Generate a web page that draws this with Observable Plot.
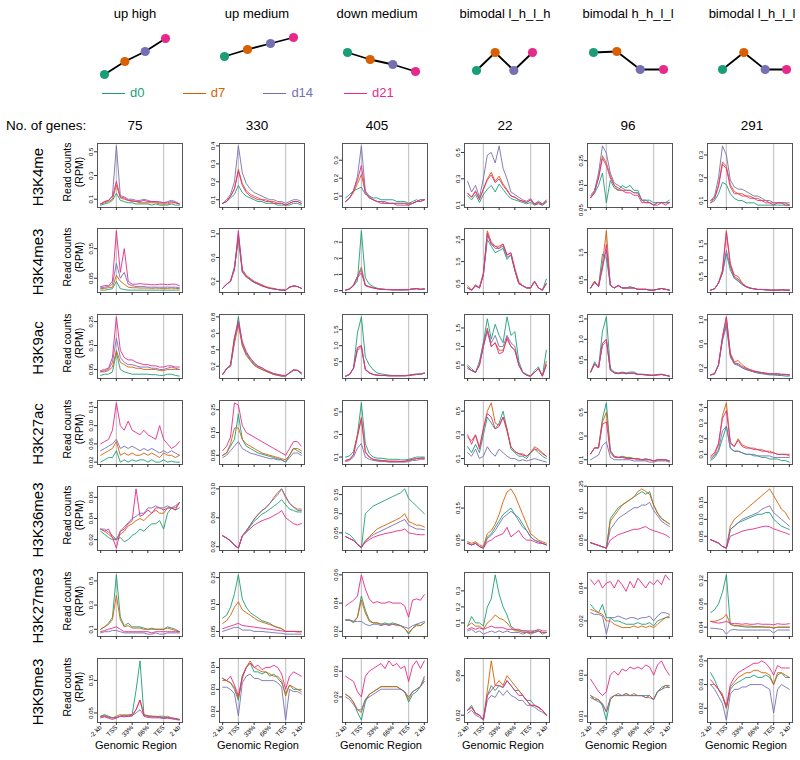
<!DOCTYPE html>
<html><head><meta charset="utf-8">
<script src="https://cdn.jsdelivr.net/npm/d3@7"></script>
<script src="https://cdn.jsdelivr.net/npm/@observablehq/plot@0.6"></script>
<style>
body{margin:0;background:#fff;font-family:"Liberation Sans",Arial,Helvetica,sans-serif;color:#000;}
#root{position:relative;width:800px;height:760px;overflow:hidden;background:#fff;}
.abs{position:absolute;white-space:nowrap;}
</style></head><body><div id="root"></div>
<script>
// ---------------- DATA ----------------
const timepoints = ["d0","d7","d14","d21"];
const groups = ["up high","up medium","down medium","bimodal l_h_l_h","bimodal h_h_l_l","bimodal l_h_l_l"];
const geneCounts = [75,330,405,22,96,291];
const histoneMarks = ["H3K4me","H3K4me3","H3K9ac","H3K27ac","H3K36me3","H3K27me3","H3K9me3"];
const regionTicks = ["-2 kb","TSS","33%","66%","TES","2 kb"];
// schematic expression level of each group at d0, d7, d14, d21
const patternLevels = [[0,13,23,36],[18,25,31,37],[22,15,10,3],[4,22,4,22],[22,23,5,5],[5,22,5,5]];

// y tick values per histone mark (one array per group)
const H3K4me_ticks   = [[0.1,0.3,0.5],[0.1,0.2,0.3,0.4],[0.1,0.2,0.3],[0.1,0.3,0.5],[0.05,0.15,0.25],[0.1,0.2,0.3]];
const H3K4me3_ticks  = [[0.05,0.15],[0.2,0.6,1.0],[0,1,2,3],[0.5,1.5,2.5],[0.5,1.5],[0.5,1.0,1.5]];
const H3K9ac_ticks   = [[0.05,0.15,0.25],[0.2,0.4,0.6,0.8],[0.5,1.0,1.5],[0.5,1.0,1.5],[0.5,1.0,1.5],[0.2,0.6,1.0]];
const H3K27ac_ticks  = [[0.02,0.06,0.10,0.14],[0.05,0.15,0.25],[0.1,0.3,0.5],[0.1,0.3,0.5],[0.1,0.3,0.5],[0.1,0.2,0.3,0.4]];
const H3K36me3_ticks = [[0.02,0.04,0.06],[0.02,0.06,0.1],[0.05,0.10,0.15],[0.05,0.15],[0.05,0.15,0.25],[0.05,0.10,0.15]];
const H3K27me3_ticks = [[0.1,0.3,0.5],[0.05,0.15,0.25],[0.02,0.04,0.06],[0.1,0.2,0.3],[0.02,0.04],[0.04,0.08,0.12]];
const H3K9me3_ticks  = [[0.05,0.15],[0.02,0.03,0.04],[0.02,0.03],[0.02,0.06],[0.01,0.03],[0.02,0.03,0.04]];

// read counts (RPM), 21 bins from -2 kb .. TSS .. 33% .. 66% .. TES .. +2 kb; series order d0, d7, d14, d21
const H3K4me = [
 [[0.05,0.06,0.07,0.09,0.15,0.09,0.08,0.07,0.07,0.06,0.06,0.06,0.06,0.05,0.06,0.05,0.05,0.05,0.06,0.05,0.05],
  [0.06,0.07,0.08,0.10,0.22,0.11,0.10,0.09,0.08,0.08,0.07,0.07,0.07,0.07,0.07,0.06,0.06,0.06,0.07,0.07,0.06],
  [0.06,0.08,0.09,0.13,0.55,0.13,0.12,0.10,0.10,0.09,0.09,0.10,0.09,0.08,0.08,0.08,0.07,0.08,0.09,0.08,0.06],
  [0.06,0.08,0.09,0.12,0.25,0.12,0.11,0.09,0.09,0.08,0.08,0.09,0.08,0.08,0.08,0.07,0.07,0.07,0.08,0.07,0.06]],
 [[0.08,0.09,0.11,0.13,0.18,0.14,0.12,0.11,0.10,0.09,0.09,0.08,0.08,0.08,0.07,0.07,0.07,0.07,0.08,0.08,0.07],
  [0.08,0.09,0.12,0.16,0.27,0.19,0.15,0.13,0.12,0.11,0.10,0.10,0.09,0.09,0.08,0.08,0.07,0.08,0.09,0.09,0.08],
  [0.08,0.10,0.13,0.20,0.40,0.25,0.19,0.16,0.14,0.13,0.12,0.11,0.10,0.10,0.09,0.09,0.08,0.09,0.10,0.10,0.09],
  [0.08,0.09,0.12,0.16,0.26,0.18,0.14,0.12,0.11,0.10,0.10,0.09,0.09,0.08,0.08,0.08,0.07,0.08,0.09,0.09,0.08]],
 [[0.09,0.11,0.13,0.14,0.15,0.11,0.10,0.09,0.09,0.08,0.08,0.08,0.08,0.07,0.07,0.07,0.06,0.07,0.08,0.07,0.08],
  [0.07,0.09,0.12,0.17,0.22,0.12,0.09,0.08,0.07,0.07,0.06,0.06,0.06,0.06,0.06,0.06,0.06,0.06,0.07,0.08,0.08],
  [0.07,0.09,0.13,0.21,0.38,0.13,0.10,0.08,0.07,0.07,0.07,0.06,0.06,0.06,0.06,0.06,0.05,0.06,0.07,0.08,0.08],
  [0.07,0.09,0.13,0.19,0.27,0.12,0.09,0.08,0.07,0.06,0.06,0.06,0.06,0.05,0.05,0.05,0.05,0.06,0.07,0.07,0.08]],
 [[0.17,0.14,0.18,0.12,0.18,0.22,0.25,0.20,0.26,0.22,0.18,0.15,0.14,0.13,0.12,0.11,0.12,0.10,0.11,0.10,0.12],
  [0.19,0.16,0.20,0.15,0.22,0.30,0.35,0.28,0.32,0.26,0.22,0.17,0.16,0.14,0.13,0.12,0.14,0.11,0.12,0.11,0.13],
  [0.28,0.20,0.25,0.16,0.30,0.48,0.50,0.42,0.55,0.38,0.30,0.20,0.18,0.16,0.14,0.13,0.15,0.11,0.13,0.11,0.14],
  [0.19,0.16,0.21,0.14,0.22,0.29,0.33,0.27,0.30,0.25,0.21,0.17,0.16,0.14,0.13,0.12,0.14,0.10,0.12,0.10,0.13]],
 [[0.10,0.12,0.15,0.20,0.08,0.17,0.14,0.13,0.15,0.14,0.15,0.13,0.13,0.09,0.09,0.09,0.08,0.08,0.08,0.08,0.09],
  [0.10,0.13,0.18,0.27,0.24,0.19,0.15,0.14,0.13,0.13,0.13,0.12,0.12,0.09,0.08,0.08,0.07,0.08,0.08,0.08,0.08],
  [0.11,0.13,0.20,0.31,0.28,0.20,0.16,0.15,0.14,0.13,0.13,0.12,0.12,0.09,0.09,0.08,0.07,0.08,0.08,0.08,0.08],
  [0.10,0.12,0.18,0.26,0.23,0.18,0.15,0.13,0.13,0.12,0.12,0.11,0.11,0.08,0.08,0.08,0.07,0.07,0.08,0.07,0.08]],
 [[0.09,0.10,0.13,0.18,0.17,0.13,0.11,0.10,0.10,0.09,0.09,0.09,0.08,0.08,0.08,0.08,0.08,0.08,0.08,0.08,0.08],
  [0.10,0.11,0.17,0.27,0.25,0.17,0.14,0.13,0.13,0.12,0.12,0.11,0.11,0.10,0.10,0.09,0.09,0.09,0.09,0.09,0.08],
  [0.10,0.12,0.20,0.34,0.30,0.19,0.16,0.15,0.15,0.14,0.13,0.12,0.12,0.11,0.10,0.10,0.09,0.09,0.09,0.09,0.09],
  [0.09,0.11,0.16,0.26,0.24,0.16,0.13,0.13,0.12,0.12,0.11,0.11,0.10,0.10,0.09,0.09,0.08,0.09,0.09,0.08,0.08]]
];
const H3K4me3 = [
 [[0.01,0.01,0.012,0.015,0.04,0.015,0.012,0.01,0.01,0.01,0.01,0.01,0.01,0.01,0.01,0.01,0.01,0.01,0.01,0.01,0.01],
  [0.015,0.016,0.018,0.02,0.06,0.04,0.03,0.02,0.018,0.018,0.017,0.017,0.017,0.016,0.017,0.016,0.016,0.016,0.017,0.016,0.015],
  [0.018,0.02,0.022,0.03,0.10,0.05,0.07,0.03,0.025,0.022,0.022,0.022,0.02,0.02,0.02,0.02,0.02,0.02,0.02,0.02,0.018],
  [0.022,0.025,0.025,0.04,0.21,0.07,0.15,0.04,0.03,0.03,0.032,0.03,0.03,0.028,0.028,0.03,0.03,0.028,0.03,0.03,0.025]],
 [[0.08,0.15,0.2,0.45,0.9,0.35,0.28,0.22,0.18,0.15,0.12,0.1,0.08,0.07,0.06,0.05,0.05,0.1,0.12,0.11,0.08],
  [0.08,0.15,0.2,0.42,0.95,0.4,0.3,0.25,0.2,0.17,0.14,0.11,0.09,0.08,0.06,0.05,0.05,0.1,0.12,0.11,0.08],
  [0.08,0.15,0.2,0.4,1.0,0.38,0.28,0.24,0.19,0.16,0.13,0.1,0.08,0.07,0.06,0.05,0.05,0.1,0.12,0.11,0.08],
  [0.08,0.15,0.2,0.4,1.05,0.36,0.27,0.23,0.18,0.15,0.12,0.1,0.08,0.07,0.06,0.05,0.05,0.1,0.12,0.11,0.08]],
 [[0.03,0.1,0.3,0.6,3.7,0.8,0.4,0.25,0.15,0.1,0.08,0.07,0.06,0.05,0.05,0.05,0.06,0.1,0.12,0.08,0.1],
  [0.03,0.1,0.35,0.9,1.45,0.35,0.25,0.18,0.12,0.09,0.07,0.06,0.05,0.05,0.05,0.05,0.06,0.1,0.12,0.08,0.1],
  [0.03,0.1,0.35,0.85,1.3,0.33,0.24,0.17,0.12,0.09,0.07,0.06,0.05,0.05,0.05,0.05,0.06,0.1,0.12,0.08,0.1],
  [0.03,0.1,0.3,0.8,1.1,0.3,0.22,0.16,0.11,0.08,0.07,0.06,0.05,0.05,0.05,0.05,0.06,0.1,0.12,0.08,0.1]],
 [[0.3,0.2,0.4,0.3,0.9,2.5,2.2,1.9,2.0,2.1,1.6,1.8,1.1,0.5,0.4,0.3,0.3,0.6,0.3,0.2,0.7],
  [0.4,0.2,0.45,0.3,1.0,2.9,2.4,2.2,2.2,2.3,1.8,1.9,1.2,0.6,0.4,0.3,0.3,0.6,0.3,0.2,0.5],
  [0.3,0.2,0.4,0.3,0.9,2.7,2.3,2.1,2.1,2.2,1.7,1.8,1.1,0.5,0.4,0.3,0.3,0.6,0.3,0.2,0.5],
  [0.3,0.2,0.4,0.3,0.9,2.8,2.3,2.2,2.1,2.3,1.8,1.9,1.1,0.5,0.4,0.3,0.3,0.6,0.3,0.2,0.5]],
 [[0.2,0.45,0.25,1.45,1.3,0.3,0.2,0.3,0.2,0.2,0.25,0.2,0.15,0.15,0.15,0.12,0.12,0.15,0.18,0.15,0.12],
  [0.2,0.45,0.25,1.1,2.3,0.3,0.2,0.3,0.2,0.2,0.2,0.2,0.15,0.15,0.15,0.12,0.12,0.15,0.18,0.15,0.12],
  [0.2,0.4,0.25,1.0,1.6,0.3,0.2,0.28,0.2,0.2,0.2,0.2,0.15,0.15,0.15,0.12,0.12,0.15,0.18,0.15,0.12],
  [0.2,0.4,0.25,0.9,1.8,0.3,0.2,0.28,0.2,0.2,0.2,0.2,0.15,0.15,0.15,0.12,0.12,0.15,0.18,0.15,0.12]],
 [[0.08,0.12,0.3,0.6,1.2,0.7,0.45,0.35,0.25,0.18,0.14,0.12,0.1,0.1,0.09,0.08,0.08,0.08,0.09,0.08,0.08],
  [0.08,0.12,0.3,0.7,1.9,0.9,0.55,0.5,0.3,0.2,0.15,0.12,0.1,0.1,0.09,0.08,0.08,0.08,0.09,0.08,0.08],
  [0.08,0.12,0.3,0.6,1.3,0.8,0.45,0.38,0.25,0.18,0.14,0.12,0.1,0.1,0.09,0.08,0.08,0.08,0.09,0.08,0.08],
  [0.08,0.12,0.3,0.65,1.85,0.85,0.5,0.42,0.28,0.19,0.14,0.12,0.1,0.1,0.09,0.08,0.08,0.08,0.09,0.08,0.08]]
];
const H3K9ac = [
 [[0.025,0.03,0.03,0.04,0.12,0.05,0.04,0.035,0.03,0.03,0.03,0.03,0.03,0.028,0.028,0.025,0.025,0.03,0.03,0.025,0.022],
  [0.04,0.04,0.045,0.06,0.13,0.08,0.07,0.06,0.06,0.055,0.055,0.05,0.05,0.05,0.05,0.045,0.045,0.05,0.05,0.05,0.05],
  [0.04,0.045,0.05,0.08,0.18,0.1,0.08,0.07,0.07,0.065,0.06,0.06,0.06,0.055,0.055,0.05,0.05,0.055,0.06,0.055,0.05],
  [0.045,0.05,0.055,0.1,0.27,0.13,0.1,0.09,0.09,0.08,0.075,0.07,0.07,0.065,0.065,0.06,0.06,0.065,0.065,0.06,0.06]],
 [[0.1,0.17,0.2,0.5,0.8,0.45,0.35,0.28,0.22,0.19,0.16,0.14,0.12,0.1,0.09,0.08,0.08,0.12,0.15,0.15,0.1],
  [0.1,0.17,0.2,0.48,0.7,0.45,0.33,0.27,0.21,0.18,0.16,0.14,0.12,0.1,0.09,0.08,0.08,0.12,0.15,0.15,0.12],
  [0.1,0.17,0.21,0.55,0.72,0.48,0.36,0.3,0.24,0.2,0.18,0.15,0.13,0.11,0.1,0.09,0.08,0.12,0.15,0.15,0.12],
  [0.1,0.17,0.22,0.55,0.75,0.5,0.38,0.3,0.24,0.2,0.18,0.15,0.13,0.11,0.1,0.09,0.09,0.12,0.16,0.15,0.12]],
 [[0.05,0.1,0.3,1.4,1.9,0.65,0.4,0.25,0.15,0.12,0.1,0.08,0.07,0.07,0.07,0.07,0.08,0.1,0.12,0.12,0.15],
  [0.05,0.1,0.3,0.9,1.0,0.25,0.15,0.1,0.08,0.07,0.07,0.06,0.06,0.06,0.06,0.06,0.07,0.09,0.1,0.11,0.14],
  [0.05,0.1,0.3,0.85,0.95,0.25,0.15,0.1,0.08,0.07,0.07,0.06,0.06,0.06,0.06,0.06,0.07,0.09,0.1,0.11,0.14],
  [0.05,0.1,0.3,0.95,1.0,0.27,0.16,0.1,0.08,0.07,0.07,0.06,0.06,0.06,0.06,0.06,0.07,0.09,0.1,0.11,0.14]],
 [[0.5,0.4,0.3,0.6,1.1,1.75,1.2,1.6,1.3,1.1,1.8,1.3,1.4,0.6,0.3,0.25,0.2,0.35,0.45,0.2,0.9],
  [0.45,0.35,0.3,0.5,1.0,1.5,1.0,1.1,0.9,0.9,1.2,1.0,0.9,0.5,0.3,0.22,0.2,0.3,0.4,0.2,0.6],
  [0.4,0.35,0.3,0.5,1.1,1.45,1.1,1.3,1.0,1.0,1.3,1.1,1.0,0.5,0.3,0.22,0.2,0.3,0.4,0.2,0.5],
  [0.45,0.35,0.3,0.5,1.0,1.4,1.0,1.1,0.8,0.85,1.25,1.0,0.9,0.5,0.3,0.22,0.2,0.3,0.4,0.2,0.5]],
 [[0.2,0.45,0.3,1.2,1.55,0.3,0.2,0.18,0.2,0.18,0.2,0.2,0.15,0.15,0.14,0.13,0.12,0.14,0.15,0.12,0.1],
  [0.2,0.4,0.3,0.9,1.0,0.25,0.18,0.16,0.18,0.16,0.17,0.17,0.14,0.14,0.13,0.12,0.12,0.13,0.14,0.12,0.1],
  [0.2,0.4,0.3,0.85,0.95,0.25,0.18,0.16,0.18,0.16,0.17,0.17,0.14,0.14,0.13,0.12,0.12,0.13,0.14,0.12,0.1],
  [0.2,0.4,0.3,0.9,1.0,0.25,0.18,0.16,0.18,0.16,0.17,0.17,0.14,0.14,0.13,0.12,0.12,0.13,0.14,0.12,0.1]],
 [[0.08,0.1,0.25,0.68,0.95,0.4,0.28,0.25,0.2,0.17,0.15,0.13,0.11,0.1,0.09,0.08,0.08,0.07,0.07,0.06,0.06],
  [0.08,0.1,0.25,0.72,1.05,0.45,0.3,0.32,0.25,0.2,0.17,0.15,0.13,0.12,0.11,0.1,0.1,0.1,0.09,0.09,0.08],
  [0.08,0.1,0.25,0.65,0.9,0.38,0.26,0.24,0.2,0.17,0.15,0.13,0.12,0.11,0.1,0.09,0.09,0.09,0.08,0.08,0.08],
  [0.08,0.1,0.25,0.7,1.05,0.42,0.28,0.27,0.22,0.19,0.16,0.14,0.13,0.12,0.11,0.1,0.1,0.1,0.09,0.09,0.08]]
];
const H3K27ac = [
 [[0.02,0.025,0.03,0.03,0.045,0.02,0.025,0.02,0.025,0.022,0.025,0.025,0.02,0.025,0.02,0.02,0.025,0.02,0.022,0.02,0.02],
  [0.035,0.04,0.045,0.05,0.065,0.035,0.04,0.035,0.04,0.035,0.035,0.04,0.035,0.04,0.035,0.03,0.04,0.035,0.035,0.03,0.035],
  [0.045,0.05,0.055,0.06,0.07,0.05,0.055,0.05,0.055,0.05,0.045,0.05,0.045,0.05,0.045,0.04,0.045,0.04,0.045,0.04,0.035],
  [0.06,0.065,0.07,0.09,0.15,0.1,0.09,0.11,0.09,0.085,0.08,0.09,0.08,0.075,0.07,0.1,0.07,0.06,0.05,0.055,0.065]],
 [[0.05,0.06,0.09,0.12,0.23,0.12,0.09,0.08,0.07,0.06,0.055,0.05,0.045,0.04,0.035,0.03,0.02,0.05,0.08,0.07,0.06],
  [0.05,0.06,0.1,0.17,0.17,0.12,0.1,0.09,0.08,0.07,0.06,0.055,0.05,0.045,0.04,0.035,0.03,0.05,0.08,0.08,0.07],
  [0.04,0.05,0.07,0.09,0.11,0.08,0.07,0.06,0.055,0.05,0.045,0.04,0.035,0.035,0.03,0.03,0.02,0.04,0.06,0.06,0.05],
  [0.07,0.09,0.13,0.28,0.27,0.18,0.15,0.14,0.13,0.12,0.11,0.1,0.09,0.08,0.07,0.06,0.05,0.08,0.11,0.11,0.09]],
 [[0.1,0.11,0.15,0.3,0.58,0.22,0.13,0.1,0.09,0.09,0.085,0.08,0.08,0.08,0.075,0.075,0.08,0.09,0.1,0.1,0.1],
  [0.07,0.08,0.12,0.3,0.45,0.15,0.1,0.08,0.075,0.07,0.07,0.065,0.065,0.065,0.06,0.065,0.07,0.08,0.085,0.09,0.09],
  [0.06,0.07,0.1,0.18,0.22,0.1,0.08,0.07,0.065,0.06,0.06,0.055,0.055,0.055,0.055,0.055,0.06,0.07,0.07,0.08,0.08],
  [0.07,0.08,0.12,0.28,0.44,0.14,0.1,0.08,0.07,0.07,0.065,0.06,0.06,0.06,0.06,0.06,0.07,0.08,0.085,0.09,0.09]],
 [[0.2,0.15,0.22,0.15,0.3,0.45,0.4,0.35,0.4,0.5,0.35,0.18,0.15,0.12,0.12,0.1,0.15,0.18,0.15,0.12,0.1],
  [0.28,0.25,0.3,0.2,0.35,0.5,0.57,0.4,0.38,0.45,0.35,0.2,0.16,0.14,0.14,0.12,0.15,0.2,0.18,0.15,0.12],
  [0.15,0.12,0.18,0.1,0.12,0.2,0.15,0.12,0.18,0.15,0.12,0.1,0.1,0.08,0.09,0.08,0.09,0.1,0.09,0.08,0.07],
  [0.3,0.22,0.3,0.18,0.35,0.48,0.45,0.35,0.37,0.45,0.33,0.2,0.16,0.14,0.13,0.12,0.15,0.18,0.17,0.14,0.12]],
 [[0.15,0.2,0.2,0.45,0.58,0.18,0.13,0.12,0.13,0.12,0.12,0.11,0.11,0.1,0.11,0.1,0.09,0.1,0.1,0.1,0.09],
  [0.15,0.2,0.2,0.42,0.5,0.17,0.13,0.12,0.12,0.12,0.11,0.11,0.11,0.1,0.1,0.1,0.09,0.1,0.1,0.1,0.09],
  [0.1,0.12,0.14,0.22,0.25,0.12,0.1,0.1,0.1,0.1,0.1,0.09,0.09,0.09,0.09,0.08,0.08,0.09,0.09,0.09,0.08],
  [0.15,0.2,0.2,0.4,0.42,0.16,0.12,0.12,0.12,0.11,0.11,0.11,0.1,0.1,0.1,0.1,0.09,0.1,0.1,0.1,0.09]],
 [[0.06,0.08,0.12,0.2,0.28,0.14,0.12,0.12,0.11,0.1,0.1,0.09,0.09,0.08,0.08,0.07,0.07,0.07,0.06,0.06,0.05],
  [0.08,0.1,0.16,0.35,0.43,0.18,0.15,0.2,0.16,0.15,0.14,0.14,0.13,0.13,0.12,0.12,0.11,0.1,0.1,0.1,0.09],
  [0.07,0.09,0.13,0.25,0.28,0.14,0.12,0.12,0.11,0.1,0.1,0.1,0.09,0.09,0.09,0.09,0.08,0.08,0.08,0.08,0.08],
  [0.09,0.11,0.17,0.33,0.38,0.17,0.15,0.19,0.15,0.14,0.14,0.13,0.13,0.12,0.12,0.11,0.11,0.1,0.1,0.1,0.1]]
];
const H3K36me3 = [
 [[0.028,0.025,0.022,0.02,0.02,0.022,0.018,0.02,0.024,0.026,0.03,0.028,0.032,0.035,0.035,0.038,0.03,0.045,0.05,0.048,0.05],
  [0.03,0.028,0.025,0.022,0.02,0.025,0.028,0.033,0.035,0.038,0.04,0.038,0.042,0.045,0.048,0.045,0.045,0.05,0.05,0.05,0.055],
  [0.03,0.03,0.027,0.024,0.02,0.028,0.032,0.036,0.04,0.042,0.045,0.045,0.05,0.05,0.052,0.05,0.05,0.052,0.05,0.052,0.055],
  [0.03,0.028,0.03,0.022,0.012,0.028,0.03,0.035,0.038,0.068,0.042,0.044,0.048,0.045,0.05,0.05,0.048,0.05,0.05,0.048,0.055]],
 [[0.035,0.032,0.028,0.022,0.018,0.035,0.04,0.048,0.055,0.06,0.065,0.068,0.072,0.076,0.08,0.085,0.078,0.072,0.07,0.068,0.068],
  [0.035,0.032,0.028,0.022,0.018,0.035,0.042,0.05,0.058,0.065,0.07,0.074,0.08,0.088,0.095,0.1,0.088,0.08,0.075,0.072,0.072],
  [0.035,0.032,0.028,0.022,0.018,0.035,0.042,0.05,0.058,0.064,0.07,0.074,0.08,0.086,0.092,0.1,0.09,0.08,0.075,0.07,0.07],
  [0.035,0.032,0.028,0.022,0.018,0.035,0.04,0.045,0.05,0.053,0.056,0.058,0.06,0.063,0.066,0.07,0.06,0.056,0.052,0.05,0.052]],
 [[0.05,0.045,0.035,0.02,0.01,0.1,0.11,0.12,0.125,0.13,0.135,0.14,0.145,0.15,0.155,0.165,0.14,0.13,0.12,0.11,0.1],
  [0.04,0.035,0.03,0.02,0.012,0.03,0.04,0.05,0.06,0.065,0.07,0.075,0.08,0.085,0.09,0.1,0.08,0.075,0.07,0.07,0.065],
  [0.04,0.035,0.03,0.02,0.012,0.028,0.037,0.045,0.05,0.055,0.06,0.065,0.07,0.075,0.08,0.085,0.07,0.065,0.06,0.06,0.058],
  [0.04,0.035,0.03,0.02,0.012,0.025,0.032,0.038,0.042,0.045,0.048,0.05,0.052,0.055,0.056,0.06,0.05,0.048,0.046,0.045,0.045]],
 [[0.04,0.035,0.04,0.03,0.025,0.06,0.07,0.09,0.11,0.13,0.14,0.15,0.13,0.12,0.1,0.08,0.06,0.05,0.045,0.04,0.035],
  [0.045,0.04,0.045,0.035,0.03,0.07,0.08,0.1,0.13,0.17,0.2,0.21,0.19,0.16,0.13,0.1,0.07,0.06,0.05,0.045,0.04],
  [0.04,0.035,0.04,0.03,0.025,0.055,0.065,0.08,0.1,0.12,0.13,0.14,0.13,0.11,0.09,0.08,0.06,0.05,0.045,0.04,0.035],
  [0.04,0.035,0.04,0.03,0.025,0.045,0.05,0.06,0.065,0.07,0.09,0.06,0.07,0.08,0.06,0.05,0.05,0.045,0.04,0.04,0.035]],
 [[0.04,0.035,0.03,0.025,0.02,0.13,0.15,0.17,0.18,0.19,0.2,0.21,0.22,0.23,0.22,0.23,0.18,0.15,0.13,0.12,0.11],
  [0.04,0.035,0.03,0.025,0.02,0.12,0.14,0.16,0.18,0.19,0.2,0.21,0.23,0.24,0.23,0.22,0.18,0.15,0.13,0.12,0.11],
  [0.04,0.035,0.03,0.025,0.02,0.09,0.11,0.13,0.14,0.15,0.16,0.17,0.17,0.18,0.18,0.19,0.16,0.14,0.12,0.11,0.1],
  [0.04,0.035,0.03,0.025,0.02,0.05,0.06,0.07,0.075,0.08,0.085,0.09,0.09,0.095,0.1,0.09,0.085,0.08,0.075,0.07,0.06]],
 [[0.04,0.035,0.03,0.02,0.015,0.07,0.08,0.09,0.095,0.1,0.105,0.11,0.115,0.115,0.12,0.12,0.1,0.09,0.08,0.075,0.07],
  [0.04,0.035,0.03,0.02,0.015,0.08,0.1,0.11,0.12,0.13,0.14,0.15,0.16,0.17,0.18,0.19,0.17,0.15,0.13,0.12,0.1],
  [0.04,0.035,0.03,0.02,0.015,0.07,0.08,0.09,0.1,0.105,0.11,0.115,0.12,0.13,0.135,0.14,0.12,0.11,0.1,0.09,0.08],
  [0.04,0.035,0.03,0.02,0.015,0.05,0.055,0.06,0.065,0.068,0.07,0.072,0.075,0.078,0.08,0.078,0.072,0.068,0.064,0.06,0.055]]
];
const H3K27me3 = [
 [[0.1,0.12,0.15,0.2,0.55,0.2,0.13,0.15,0.12,0.12,0.12,0.11,0.1,0.11,0.1,0.1,0.1,0.12,0.11,0.1,0.08],
  [0.1,0.12,0.14,0.18,0.38,0.18,0.12,0.13,0.11,0.11,0.11,0.1,0.1,0.1,0.1,0.1,0.1,0.11,0.1,0.09,0.08],
  [0.07,0.08,0.08,0.09,0.09,0.08,0.07,0.07,0.07,0.07,0.07,0.07,0.06,0.06,0.07,0.06,0.06,0.07,0.07,0.07,0.07],
  [0.08,0.09,0.1,0.11,0.12,0.1,0.08,0.08,0.08,0.08,0.08,0.08,0.08,0.07,0.08,0.08,0.08,0.08,0.08,0.08,0.08]],
 [[0.1,0.11,0.14,0.19,0.26,0.17,0.14,0.12,0.11,0.1,0.09,0.085,0.08,0.07,0.065,0.06,0.05,0.05,0.05,0.05,0.05],
  [0.08,0.09,0.11,0.14,0.16,0.13,0.12,0.11,0.1,0.09,0.085,0.08,0.075,0.07,0.065,0.06,0.05,0.05,0.05,0.05,0.05],
  [0.05,0.055,0.06,0.065,0.065,0.055,0.055,0.055,0.05,0.05,0.05,0.048,0.047,0.045,0.044,0.043,0.04,0.04,0.04,0.04,0.04],
  [0.06,0.065,0.07,0.075,0.08,0.072,0.07,0.068,0.066,0.064,0.062,0.06,0.058,0.056,0.054,0.052,0.05,0.05,0.05,0.048,0.048]],
 [[0.028,0.028,0.026,0.03,0.045,0.035,0.028,0.026,0.026,0.025,0.026,0.025,0.026,0.025,0.024,0.022,0.018,0.022,0.025,0.024,0.026],
  [0.028,0.028,0.027,0.03,0.042,0.033,0.027,0.026,0.026,0.025,0.025,0.025,0.025,0.025,0.024,0.022,0.019,0.022,0.024,0.024,0.026],
  [0.028,0.028,0.027,0.027,0.027,0.025,0.024,0.025,0.025,0.024,0.025,0.024,0.025,0.024,0.024,0.023,0.022,0.024,0.025,0.026,0.027],
  [0.038,0.04,0.042,0.045,0.06,0.05,0.043,0.04,0.041,0.04,0.04,0.041,0.04,0.04,0.04,0.038,0.03,0.042,0.043,0.042,0.046]],
 [[0.08,0.14,0.1,0.1,0.08,0.2,0.25,0.4,0.28,0.2,0.15,0.08,0.06,0.05,0.05,0.05,0.04,0.05,0.05,0.04,0.04],
  [0.08,0.1,0.08,0.08,0.06,0.1,0.12,0.15,0.13,0.12,0.1,0.07,0.05,0.05,0.04,0.04,0.04,0.04,0.05,0.04,0.04],
  [0.05,0.06,0.04,0.05,0.03,0.04,0.05,0.04,0.05,0.04,0.05,0.04,0.04,0.04,0.03,0.04,0.03,0.04,0.05,0.03,0.04],
  [0.06,0.07,0.06,0.07,0.06,0.07,0.08,0.07,0.07,0.07,0.06,0.06,0.06,0.06,0.05,0.05,0.05,0.05,0.06,0.05,0.05]],
 [[0.03,0.027,0.025,0.03,0.022,0.022,0.02,0.02,0.019,0.018,0.018,0.018,0.019,0.018,0.018,0.019,0.017,0.02,0.021,0.022,0.022],
  [0.027,0.026,0.025,0.024,0.02,0.02,0.018,0.017,0.016,0.016,0.016,0.017,0.016,0.017,0.016,0.017,0.016,0.018,0.02,0.022,0.023],
  [0.025,0.024,0.024,0.023,0.012,0.022,0.022,0.023,0.022,0.021,0.022,0.022,0.021,0.022,0.022,0.023,0.02,0.023,0.025,0.025,0.024],
  [0.045,0.042,0.045,0.04,0.043,0.044,0.04,0.045,0.042,0.038,0.044,0.04,0.046,0.043,0.04,0.044,0.042,0.045,0.042,0.048,0.045]],
 [[0.065,0.07,0.08,0.1,0.13,0.045,0.042,0.042,0.041,0.04,0.04,0.04,0.04,0.04,0.04,0.04,0.038,0.04,0.04,0.04,0.04],
  [0.05,0.05,0.052,0.055,0.062,0.045,0.043,0.043,0.042,0.042,0.042,0.041,0.041,0.041,0.04,0.04,0.039,0.04,0.04,0.04,0.04],
  [0.038,0.038,0.037,0.036,0.028,0.035,0.036,0.035,0.035,0.035,0.035,0.035,0.035,0.035,0.035,0.035,0.03,0.035,0.035,0.035,0.035],
  [0.05,0.048,0.047,0.048,0.05,0.047,0.046,0.046,0.045,0.046,0.045,0.045,0.046,0.045,0.045,0.045,0.044,0.046,0.045,0.045,0.046]]
];
const H3K9me3 = [
 [[0.04,0.045,0.04,0.035,0.035,0.04,0.045,0.04,0.045,0.12,0.21,0.045,0.04,0.04,0.038,0.04,0.04,0.035,0.035,0.032,0.03],
  [0.04,0.042,0.038,0.035,0.04,0.045,0.042,0.045,0.045,0.06,0.09,0.045,0.042,0.04,0.04,0.038,0.035,0.04,0.035,0.033,0.03],
  [0.038,0.04,0.036,0.035,0.035,0.04,0.04,0.04,0.042,0.05,0.06,0.042,0.04,0.038,0.038,0.036,0.035,0.036,0.034,0.033,0.03],
  [0.035,0.038,0.034,0.03,0.035,0.04,0.038,0.04,0.04,0.06,0.09,0.04,0.036,0.035,0.035,0.035,0.033,0.034,0.032,0.03,0.028]],
 [[0.035,0.034,0.033,0.03,0.025,0.036,0.04,0.042,0.038,0.038,0.037,0.038,0.036,0.037,0.035,0.033,0.028,0.032,0.03,0.03,0.03],
  [0.034,0.034,0.033,0.031,0.026,0.035,0.04,0.043,0.04,0.039,0.038,0.038,0.037,0.036,0.036,0.034,0.027,0.032,0.031,0.03,0.029],
  [0.031,0.031,0.03,0.028,0.018,0.033,0.036,0.037,0.035,0.035,0.034,0.034,0.034,0.034,0.033,0.031,0.016,0.03,0.029,0.029,0.028],
  [0.035,0.034,0.036,0.032,0.027,0.036,0.04,0.042,0.04,0.041,0.039,0.04,0.04,0.041,0.04,0.037,0.03,0.036,0.038,0.037,0.036]],
 [[0.021,0.02,0.018,0.014,0.011,0.018,0.021,0.022,0.023,0.024,0.024,0.024,0.024,0.024,0.023,0.022,0.018,0.021,0.022,0.024,0.026],
  [0.021,0.02,0.018,0.015,0.014,0.019,0.021,0.022,0.023,0.024,0.024,0.024,0.024,0.024,0.023,0.022,0.019,0.022,0.023,0.024,0.027],
  [0.02,0.019,0.017,0.015,0.015,0.019,0.02,0.021,0.022,0.023,0.023,0.023,0.023,0.023,0.023,0.022,0.02,0.022,0.023,0.024,0.028],
  [0.028,0.027,0.026,0.022,0.02,0.028,0.03,0.031,0.032,0.033,0.031,0.034,0.032,0.033,0.031,0.032,0.026,0.032,0.034,0.031,0.034]],
 [[0.025,0.03,0.022,0.02,0.015,0.04,0.05,0.045,0.05,0.048,0.055,0.05,0.045,0.045,0.04,0.035,0.035,0.03,0.028,0.025,0.02],
  [0.025,0.028,0.022,0.02,0.015,0.045,0.075,0.05,0.055,0.05,0.06,0.055,0.05,0.045,0.04,0.035,0.03,0.03,0.028,0.025,0.02],
  [0.022,0.025,0.02,0.018,0.015,0.035,0.04,0.038,0.045,0.04,0.045,0.04,0.038,0.035,0.035,0.03,0.03,0.028,0.025,0.023,0.02],
  [0.025,0.028,0.022,0.02,0.016,0.04,0.045,0.05,0.05,0.048,0.055,0.05,0.045,0.04,0.04,0.035,0.03,0.03,0.028,0.025,0.02]],
 [[0.02,0.018,0.018,0.015,0.008,0.018,0.02,0.02,0.02,0.021,0.02,0.02,0.02,0.02,0.02,0.02,0.018,0.022,0.024,0.025,0.025],
  [0.02,0.019,0.018,0.016,0.012,0.018,0.02,0.021,0.02,0.021,0.02,0.021,0.02,0.02,0.019,0.02,0.018,0.022,0.023,0.025,0.024],
  [0.019,0.018,0.017,0.016,0.012,0.019,0.02,0.02,0.02,0.02,0.02,0.02,0.02,0.02,0.019,0.019,0.018,0.022,0.023,0.024,0.024],
  [0.028,0.025,0.022,0.02,0.022,0.03,0.032,0.03,0.033,0.032,0.034,0.033,0.034,0.033,0.035,0.034,0.03,0.035,0.037,0.033,0.03]],
 [[0.035,0.032,0.028,0.025,0.02,0.028,0.03,0.031,0.032,0.033,0.033,0.034,0.033,0.033,0.034,0.033,0.03,0.034,0.035,0.033,0.033],
  [0.03,0.03,0.028,0.026,0.02,0.029,0.031,0.033,0.034,0.035,0.035,0.036,0.036,0.035,0.035,0.034,0.03,0.035,0.035,0.034,0.033],
  [0.03,0.028,0.025,0.022,0.015,0.026,0.028,0.028,0.029,0.029,0.03,0.03,0.03,0.03,0.029,0.028,0.018,0.028,0.03,0.029,0.028],
  [0.032,0.03,0.028,0.025,0.021,0.03,0.033,0.035,0.036,0.037,0.038,0.039,0.039,0.04,0.039,0.037,0.034,0.038,0.037,0.037,0.037]]
];

// ---------------- LAYOUT & STYLE ----------------
const colors = ["#1b9e77","#d95f02","#7570b3","#e7298a"];
const FONT = '"Liberation Sans", Arial, Helvetica, sans-serif';
const colLeft = [97,219,342,464,587,707];
const rowTop = [143,228,314,400,486,572,658];
const boxW = 85, boxH = 64;
const mL = 24, mR = 3, mT = 3;
const headCenter = [135,257,377,505,628,752];
const patSpan = [61,69,68,56,70,64];
const patCenter = [134,258,381,504,628,754];

const root = document.getElementById("root");
function put(node, left, top, css){
  const d = document.createElement("div");
  d.className = "abs";
  d.style.left = left + "px"; d.style.top = top + "px";
  if (css) Object.assign(d.style, css);
  if (typeof node === "string") d.textContent = node; else d.appendChild(node);
  root.appendChild(d);
  return d;
}

// column titles and gene counts
groups.forEach((g,c) => {
  put(g, headCenter[c], 6, {transform:"translateX(-50%)", fontSize:"13px"});
  put(String(geneCounts[c]), headCenter[c], 118, {transform:"translateX(-50%)", fontSize:"13.5px"});
});
put("No. of genes:", 6, 118, {fontSize:"13.5px"});

// pattern schematics
patternLevels.forEach((lv,c) => {
  const pts = lv.map((v,i) => ({i, v, t: timepoints[i]}));
  const pad = 6;
  const p = Plot.plot({
    width: patSpan[c] + 2*pad, height: 38 + 2*pad,
    marginLeft: pad, marginRight: pad, marginTop: pad, marginBottom: pad,
    x: {domain:[0,3], axis:null}, y: {domain:[0,38], axis:null},
    color: {domain: timepoints, range: colors},
    style: {background:"transparent", overflow:"visible", maxWidth:"none"},
    marks: [
      Plot.line(pts, {x:"i", y:"v", stroke:"#000", strokeWidth:1.8}),
      Plot.dot(pts, {x:"i", y:"v", fill:"t", r:4.6})
    ]
  });
  put(p, patCenter[c] - patSpan[c]/2 - pad, 74 + pad - (38 + 2*pad));
});

// legend
timepoints.forEach((t,k) => {
  const x0 = 102 + k*80.7;
  put("", x0, 93, {width:"23px", height:"0px", borderTop:"1px solid "+colors[k]});
  put(t, x0 + 28, 85, {fontSize:"13px", color: colors[k]});
});

// panels
function fmtFor(ticks){
  const dec = d3.max(ticks, t => { const s = String(t); return s.includes(".") ? s.split(".")[1].length : 0; });
  return d => d.toFixed(dec);
}
const allData = [H3K4me,H3K4me3,H3K9ac,H3K27ac,H3K36me3,H3K27me3,H3K9me3];
const allTicks = [H3K4me_ticks,H3K4me3_ticks,H3K9ac_ticks,H3K27ac_ticks,H3K36me3_ticks,H3K27me3_ticks,H3K9me3_ticks];
allData.forEach((rowData, r) => {
  const isBottom = r === allData.length - 1;
  const cy = rowTop[r] + boxH/2;
  put(histoneMarks[r], 37, cy + 2, {fontSize:"15px", transform:"translate(-50%,-50%) rotate(-90deg)"});
  const lab = document.createElement("div");
  lab.innerHTML = "Read counts<br>(RPM)";
  put(lab, 73, cy - 3, {fontSize:"10.5px", lineHeight:"12px", textAlign:"center", transform:"translate(-50%,-50%) rotate(-90deg)"});
  rowData.forEach((series, c) => {
    const rows = [];
    series.forEach((vals, s) => vals.forEach((v,i) => rows.push({t: timepoints[s], i, v})));
    const lo = d3.min(rows, d => d.v), hi = d3.max(rows, d => d.v), pad = (hi - lo)*0.04;
    const ticks = allTicks[r][c];
    const mB = isBottom ? 40 : 8;
    const p = Plot.plot({
      width: mL + boxW + mR, height: mT + boxH + mB,
      marginLeft: mL, marginRight: mR, marginTop: mT, marginBottom: mB,
      x: {domain:[-0.8, 20.8]},
      y: {domain:[lo - pad, hi + pad]},
      color: {domain: timepoints, range: colors},
      style: {background:"transparent", overflow:"visible", maxWidth:"none", fontFamily: FONT},
      marks: [
        Plot.ruleX([4,16], {stroke:"#c9c9c9", strokeWidth:1.3}),
        Plot.line(rows, {x:"i", y:"v", z:"t", stroke:"t", strokeWidth:0.9}),
        Plot.frame({stroke:"#555", strokeWidth:1}),
        Plot.axisY({ticks, label:null, tickFormat: fmtFor(ticks), tickSize:3, tickRotate:-90, tickPadding:2, fontSize:6, stroke:"#333"}),
        Plot.axisX({ticks:[0,4,8,12,16,20], label:null, tickSize:3, stroke:"#333",
          tickFormat: isBottom ? (d => regionTicks[d/4]) : (() => ""),
          tickRotate: isBottom ? -45 : 0, fontSize:6.5, tickPadding: 1}),
        isBottom ? Plot.text(["Genomic Region"], {frameAnchor:"bottom", dy:26, dx:-4, fontSize:11}) : null
      ]
    });
    put(p, colLeft[c] - mL, rowTop[r] - mT, {width: (mL+boxW+mR)+"px"});
  });
});
</script>
</body></html>
